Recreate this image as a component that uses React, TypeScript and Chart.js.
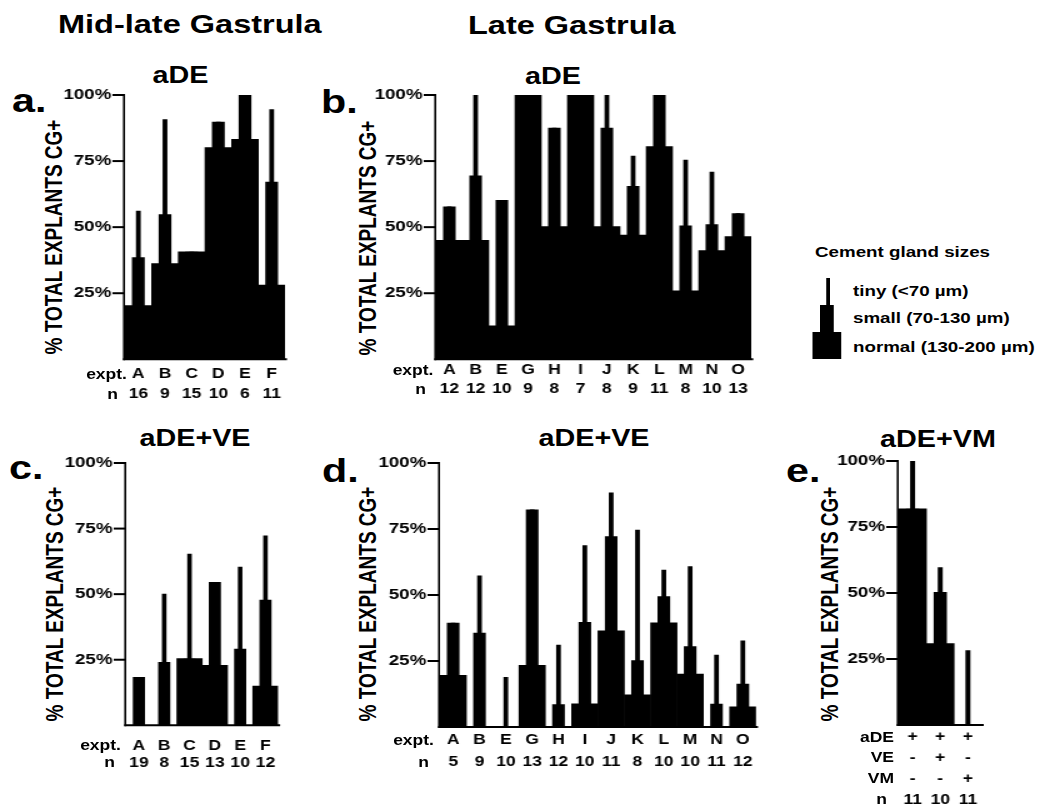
import React, { useEffect, useRef } from 'react';
import { Chart, registerables } from 'chart.js';
Chart.register(...registerables);

const S = 1.25; // horizontal stretch of the reference figure
const FONT = "'Liberation Sans', Arial, Helvetica, sans-serif";
Chart.defaults.font.family = FONT;

// ---------- Panel a: Mid-late gastrula, aDE ----------
const aExpt = ['A', 'B', 'C', 'D', 'E', 'F'];
const aN = ['16', '9', '15', '10', '6', '11'];
const aNormal = [20.3, 36.2, 40.7, 80.1, 83.2, 28.1];
const aSmall = [38.6, 54.9, 40.7, 89.9, 100, 67.2];
const aTiny = [56.2, 90.8, 40.7, 89.9, 100, 94.6];

// ---------- Panel b: Late gastrula, aDE ----------
const bExpt = ['A', 'B', 'E', 'G', 'H', 'I', 'J', 'K', 'L', 'M', 'N', 'O'];
const bN = ['12', '12', '10', '9', '8', '7', '8', '9', '11', '8', '10', '13'];
const bNormal = [45, 45, 12.7, 100, 50.2, 100, 50.2, 47, 80.5, 25.9, 41.1, 46.4];
const bSmall = [57.8, 69.5, 60.3, 100, 87.6, 100, 87.6, 65.6, 100, 50.6, 51.1, 55.3];
const bTiny = [57.8, 100, 60.3, 100, 87.6, 100, 100, 77, 100, 75.5, 71, 55.3];

// ---------- Panel c: Mid-late gastrula, aDE+VE ----------
const cExpt = ['A', 'B', 'C', 'D', 'E', 'F'];
const cN = ['19', '8', '15', '13', '10', '12'];
const cNormal = [0, 0, 25.4, 22.9, 0, 15];
const cSmall = [18.4, 24.1, 25.4, 54.6, 29.2, 47.9];
const cTiny = [18.4, 50.2, 65.4, 54.6, 60.4, 72.4];

// ---------- Panel d: Late gastrula, aDE+VE ----------
const dExpt = ['A', 'B', 'E', 'G', 'H', 'I', 'J', 'K', 'L', 'M', 'N', 'O'];
const dN = ['5', '9', '10', '13', '12', '10', '11', '8', '10', '10', '11', '12'];
const dNormal = [19.6, 0, 0, 23.4, 0, 8.8, 36.4, 12.2, 39.5, 20, 0, 7.6];
const dSmall = [39.5, 35.7, 0, 82.4, 8.6, 39.8, 72.3, 25.3, 49.5, 30.6, 8.8, 16.4];
const dTiny = [39.5, 57.4, 18.9, 82.4, 31.2, 68.8, 88.8, 74.7, 59.6, 60.9, 27.4, 32.8];

// ---------- Panel e: aDE+VM ----------
const eADE = ['+', '+', '+'];
const eVE = ['-', '+', '-'];
const eVM = ['-', '-', '+'];
const eN = ['11', '10', '11'];
const eNormal = [81.9, 30.8, 0];
const eSmall = [81.9, 50.4, 0];
const eTiny = [100, 59.8, 28.3];

const yTicks = [25, 50, 75, 100];

// draws the axis lines and the outward tick marks from the chart's own scales
const axisPlugin = {
  id: 'axisLines',
  afterDatasetsDraw(chart: any) {
    const { ctx, chartArea, scales } = chart;
    const y = scales.y;
    ctx.save();
    ctx.strokeStyle = '#000';
    ctx.lineCap = 'butt';
    // y axis line
    ctx.lineWidth = 2 / S;
    ctx.beginPath();
    ctx.moveTo(chartArea.left - 1 / S, y.getPixelForValue(100) - 1);
    ctx.lineTo(chartArea.left - 1 / S, y.getPixelForValue(0) + 1);
    ctx.stroke();
    // tick marks
    ctx.lineWidth = 2;
    yTicks.forEach((v) => {
      const py = y.getPixelForValue(v);
      ctx.beginPath();
      ctx.moveTo(chartArea.left - 10, py);
      ctx.lineTo(chartArea.left, py);
      ctx.stroke();
    });
    // x axis line
    ctx.beginPath();
    ctx.moveTo(chartArea.left - 2 / S, y.getPixelForValue(0));
    ctx.lineTo(chartArea.right + 2 / S, y.getPixelForValue(0));
    ctx.stroke();
    ctx.restore();
  },
};

type PanelProps = {
  labels: string[][];
  normal: number[];
  small: number[];
  tiny: number[];
  axisX: number;
  rightX: number;
  topY: number;
  botY: number;
  lh: number;
  pad: number;
};

function Panel(p: PanelProps) {
  const ref = useRef<HTMLCanvasElement>(null);
  const Yw = 56;
  const padTop = 12;
  const plotW = (p.rightX - p.axisX) / S;
  const canvasW = Math.ceil(Yw + plotW + 4);
  const padRight = canvasW - Yw - plotW;
  const plotH = p.botY - p.topY;
  const nLines = p.labels[0].length;
  const canvasH = Math.ceil(padTop + plotH + p.pad + nLines * p.lh + 4);
  const xh = canvasH - padTop - plotH;
  const left = p.axisX / S - Yw;
  const top = p.topY - padTop;

  useEffect(() => {
    const canvas = ref.current;
    if (!canvas) return;
    const chart = new Chart(canvas, {
      type: 'bar',
      data: {
        labels: p.labels,
        datasets: [
          { label: 'tiny (<70 µm)', data: p.tiny, barPercentage: 0.18, backgroundColor: '#000', borderColor: '#000' },
          { label: 'small (70-130 µm)', data: p.small, barPercentage: 0.48, backgroundColor: '#000', borderColor: '#000' },
          { label: 'normal (130-200 µm)', data: p.normal, barPercentage: 1.0, backgroundColor: '#000', borderColor: '#000' },
        ],
      },
      options: {
        responsive: false,
        animation: false,
        layout: { padding: { top: padTop, right: padRight, left: 0, bottom: 0 } },
        plugins: {
          legend: { display: false },
          tooltip: { enabled: false },
          title: { display: false },
          colors: { enabled: false },
        },
        datasets: {
          bar: {
            grouped: false,
            categoryPercentage: 1,
            borderWidth: 0,
          },
        },
        scales: {
          x: {
            type: 'category',
            offset: true,
            grid: { display: false, drawTicks: false },
            border: { display: false },
            ticks: {
              color: '#000',
              font: { family: FONT, size: 14, weight: 'bold', lineHeight: p.lh / 14 },
              padding: p.pad,
              maxRotation: 0,
              minRotation: 0,
              autoSkip: false,
            },
            afterFit: (s: any) => {
              s.height = xh;
            },
          },
          y: {
            min: 0,
            max: 100,
            ticks: {
              stepSize: 25,
              color: '#000',
              padding: 1,
              font: { family: FONT, size: 15, weight: 'bold' },
              callback: (v: any) => v + '%',
            },
            afterBuildTicks: (s: any) => {
              s.ticks = s.ticks.filter((t: any) => yTicks.includes(t.value));
            },
            afterFit: (s: any) => {
              s.width = Yw;
            },
            grid: {
              display: false,
              drawOnChartArea: false,
              drawTicks: true,
              tickLength: 10,
            },
            border: { display: false },
          },
        },
      } as any,
      plugins: [axisPlugin],
    });
    return () => chart.destroy();
  }, []);

  return (
    <canvas
      ref={ref}
      width={canvasW}
      height={canvasH}
      style={{ position: 'absolute', left, top, width: canvasW, height: canvasH }}
    />
  );
}

type TProps = {
  x: number;
  y: number;
  size: number;
  text: string;
  align?: 'left' | 'center' | 'right';
  center?: boolean; // y is vertical centre of caps instead of baseline
};

function T({ x, y, size, text, align = 'left', center = false }: TProps) {
  const top = center ? y - 0.489 * size : y - 0.847 * size;
  const tx = align === 'left' ? '0' : align === 'center' ? '-50%' : '-100%';
  return (
    <div
      style={{
        position: 'absolute',
        left: x / S,
        top,
        fontSize: size,
        lineHeight: 1,
        fontWeight: 'bold',
        fontFamily: FONT,
        whiteSpace: 'nowrap',
        color: '#000',
        transform: `translateX(${tx})`,
      }}
    >
      {text}
    </div>
  );
}

function YTitle({ cx, cy }: { cx: number; cy: number }) {
  return (
    <div
      style={{
        position: 'absolute',
        left: cx / S,
        top: cy,
        fontSize: 19,
        lineHeight: 1,
        fontWeight: 'bold',
        fontFamily: FONT,
        whiteSpace: 'nowrap',
        color: '#000',
        transform: 'translate(-50%, -50%) rotate(-90deg)',
      }}
    >
      % TOTAL EXPLANTS CG+
    </div>
  );
}

function Box({ x1, x2, y1, y2 }: { x1: number; x2: number; y1: number; y2: number }) {
  return (
    <div
      style={{
        position: 'absolute',
        left: x1 / S,
        top: y1,
        width: (x2 - x1) / S,
        height: y2 - y1,
        background: '#000',
      }}
    />
  );
}

const zip2 = (a: string[], b: string[]) => a.map((v, i) => [v, b[i]]);

export default function App() {
  return (
    <div
      style={{
        position: 'absolute',
        left: 0,
        top: 0,
        width: 1045 / S,
        height: 807,
        overflow: 'hidden',
        background: '#fff',
        transform: `scaleX(${S})`,
        transformOrigin: '0 0',
      }}
    >
      {/* column headers */}
      <T x={58} y={33.5} size={26} text="Mid-late Gastrula" />
      <T x={468} y={34.5} size={26} text="Late Gastrula" />

      {/* panel titles */}
      <T x={180.5} y={83} size={23} text="aDE" align="center" />
      <T x={553} y={84} size={23} text="aDE" align="center" />
      <T x={195} y={446} size={23} text="aDE+VE" align="center" />
      <T x={594} y={446} size={23} text="aDE+VE" align="center" />
      <T x={938} y={447} size={23} text="aDE+VM" align="center" />

      {/* panel letters */}
      <T x={12} y={112} size={33} text="a." />
      <T x={321} y={113} size={33} text="b." />
      <T x={9} y={479} size={33} text="c." />
      <T x={322} y={482} size={33} text="d." />
      <T x={786} y={482} size={33} text="e." />

      {/* y titles */}
      <YTitle cx={54} cy={237} />
      <YTitle cx={367} cy={238} />
      <YTitle cx={54.5} cy={604} />
      <YTitle cx={367.5} cy={604} />
      <YTitle cx={829.5} cy={604} />

      {/* charts */}
      <Panel labels={zip2(aExpt, aN)} normal={aNormal} small={aSmall} tiny={aTiny}
        axisX={125} rightX={285} topY={95} botY={359.3} lh={20} pad={4.5} />
      <Panel labels={zip2(bExpt, bN)} normal={bNormal} small={bSmall} tiny={bTiny}
        axisX={436} rightX={751} topY={95} botY={359.3} lh={19} pad={1.2} />
      <Panel labels={zip2(cExpt, cN)} normal={cNormal} small={cSmall} tiny={cTiny}
        axisX={126} rightX={286} topY={462.7} botY={725} lh={17} pad={12.5} />
      <Panel labels={zip2(dExpt, dN)} normal={dNormal} small={dSmall} tiny={dTiny}
        axisX={440} rightX={756} topY={462.7} botY={726.7} lh={22} pad={2.3} />
      <Panel labels={eADE.map((v, i) => [v, eVE[i], eVM[i], eN[i]])} normal={eNormal} small={eSmall} tiny={eTiny}
        axisX={899} rightX={982} topY={460.7} botY={724.7} lh={21} pad={1.5} />

      {/* x row labels */}
      <T x={127} y={373.5} size={14} text="expt." align="right" center />
      <T x={118} y={393.5} size={14} text="n" align="right" center />
      <T x={433.5} y={370} size={14} text="expt." align="right" center />
      <T x={426} y={389} size={14} text="n" align="right" center />
      <T x={121} y={745} size={14} text="expt." align="right" center />
      <T x={115} y={762} size={14} text="n" align="right" center />
      <T x={434} y={740} size={14} text="expt." align="right" center />
      <T x={429} y={762} size={14} text="n" align="right" center />
      <T x={894} y={736.7} size={14} text="aDE" align="right" center />
      <T x={894} y={757.3} size={14} text="VE" align="right" center />
      <T x={894} y={778.3} size={14} text="VM" align="right" center />
      <T x={887} y={799.3} size={14} text="n" align="right" center />

      {/* legend */}
      <T x={815} y={256.5} size={15} text="Cement gland sizes" />
      <Box x1={825.7} x2={830} y1={278} y2={359} />
      <Box x1={820} x2={833.3} y1={305} y2={359} />
      <Box x1={812.3} x2={841} y1={331.7} y2={359} />
      <T x={853} y={295.5} size={15} text="tiny (<70 µm)" />
      <T x={853} y={323} size={15} text="small (70-130 µm)" />
      <T x={853} y={351.5} size={15} text="normal (130-200 µm)" />
    </div>
  );
}
